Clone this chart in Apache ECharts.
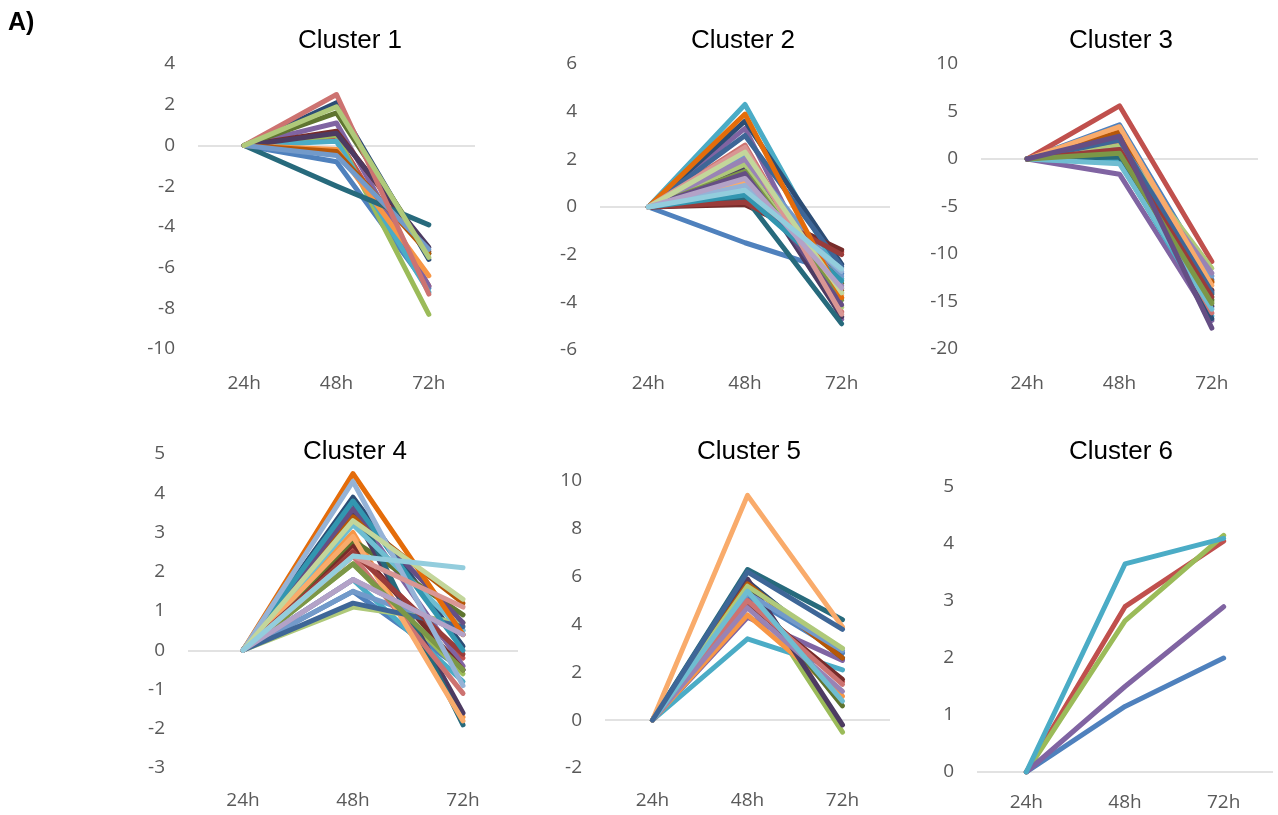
<!DOCTYPE html>
<html>
<head>
<meta charset="utf-8">
<script src="https://cdn.jsdelivr.net/npm/echarts@6/dist/echarts.min.js"></script>
<style>
  html, body { margin: 0; padding: 0; background: #fff; }
  #main { width: 1278px; height: 815px; }
</style>
</head>
<body>
<div id="main"></div>
<script>
// time points
var timeLabels = ['24h', '48h', '72h'];

// Excel 2010 style series colours, used in order within each cluster
var palette = [
  '#4F81BD', '#C0504D', '#9BBB59', '#8064A2', '#4BACC6', '#F79646',
  '#2C4D75', '#772C2A', '#5F7530', '#4D3B62', '#276A7C', '#B65708',
  '#729ACA', '#CD7371', '#AFC97A', '#9983B5', '#6FBDD1', '#F9AB6B',
  '#3E6697', '#9A3C3A', '#7C9747', '#654E84', '#3296B0', '#E46C0A',
  '#95B3D7', '#D99694', '#C3D69B', '#B3A2C7', '#93CDDD', '#FAC090'
];

// each row: value at 24h, 48h, 72h
var cluster1 = [
  [0, -0.8, -7.0], [0, 0.4, -6.9], [0, 0.5, -8.3], [0, 1.1, -6.9], [0, 0.2, -7.2],
  [0, -0.2, -6.4], [0, 2.1, -5.6], [0, 0.7, -5.2], [0, 1.6, -5.3], [0, 0.6, -5.0],
  [0, -2.0, -3.9], [0, -0.3, -5.3], [0, -0.5, -5.1], [0, 2.5, -7.3], [0, 1.9, -5.5]
];
var cluster2 = [
  [0, -1.5, -2.8], [0, 0.3, -1.9], [0, 1.9, -3.4], [0, 3.3, -4.7], [0, 4.3, -3.0],
  [0, 1.4, -3.8], [0, 3.6, -2.4], [0, 0.1, -1.8], [0, 1.7, -3.2], [0, 1.6, -4.6],
  [0, 0.4, -4.9], [0, 1.3, -3.5], [0, 2.1, -2.9], [0, 2.6, -4.4], [0, 1.8, -4.2],
  [0, 2.0, -3.3], [0, 1.0, -3.6], [0, 1.1, -3.7], [0, 3.0, -2.5], [0, 0.2, -2.0],
  [0, 1.5, -3.9], [0, 1.4, -4.1], [0, 0.5, -3.1], [0, 3.9, -3.8], [0, 0.9, -2.7],
  [0, 2.5, -4.5], [0, 2.3, -3.6], [0, 1.2, -3.4], [0, 0.7, -2.6]
];
var cluster3 = [
  [0, 3.6, -12.7], [0, 5.6, -10.8], [0, 1.5, -15.0], [0, -1.6, -17.0], [0, -0.3, -16.5],
  [0, 3.2, -13.0], [0, 2.2, -16.8], [0, 0.5, -13.8], [0, 0.3, -14.8], [0, 2.0, -15.5],
  [0, 0.2, -14.2], [0, 2.8, -12.9], [0, 1.8, -12.3], [0, 1.6, -16.2], [0, 1.4, -11.5],
  [0, 1.0, -12.0], [0, -0.5, -15.8], [0, 3.4, -13.3], [0, 2.0, -14.0], [0, 1.0, -14.5],
  [0, 0.6, -15.2], [0, 2.4, -17.8]
];
var cluster4 = [
  [0, 1.5, -0.5], [0, 2.6, -0.2], [0, 2.2, -0.6], [0, 3.6, -0.4], [0, 1.8, -0.8],
  [0, 3.0, -1.7], [0, 3.9, 0.1], [0, 2.7, -0.5], [0, 2.8, 0.9], [0, 3.5, -1.6],
  [0, 3.8, -1.9], [0, 3.4, 1.2], [0, 1.5, 0.5], [0, 2.4, -1.1], [0, 1.1, 0.7],
  [0, 1.8, 0.4], [0, 3.2, 0.5], [0, 2.9, -1.8], [0, 1.2, 0.6], [0, 2.5, -0.1],
  [0, 2.2, -0.5], [0, 3.6, 0.7], [0, 3.8, 0.0], [0, 4.5, 0.4], [0, 4.3, -0.9],
  [0, 2.4, 1.1], [0, 3.3, 1.3], [0, 1.8, 0.4], [0, 2.4, 2.1]
];
var cluster5 = [
  [0, 5.2, 2.8], [0, 5.0, 1.6], [0, 5.6, -0.5], [0, 4.3, 2.5], [0, 3.4, 2.1],
  [0, 4.4, 1.0], [0, 5.8, 2.6], [0, 4.9, 1.7], [0, 5.5, 0.6], [0, 5.9, -0.2],
  [0, 6.3, 4.2], [0, 5.7, 2.6], [0, 5.3, 2.9], [0, 5.0, 1.5], [0, 5.6, 3.0],
  [0, 4.7, 1.2], [0, 5.4, 0.8], [0, 9.4, 3.9], [0, 6.2, 3.8]
];
var cluster6 = [
  [0, 1.15, 2.0], [0, 2.9, 4.05], [0, 2.65, 4.15], [0, 1.5, 2.9], [0, 3.65, 4.1]
];

var clusters = [cluster1, cluster2, cluster3, cluster4, cluster5, cluster6];
var titles = ['Cluster 1', 'Cluster 2', 'Cluster 3', 'Cluster 4', 'Cluster 5', 'Cluster 6'];
var yMin = [-10, -6, -20, -3, -2, 0];
var yMax = [4, 6, 10, 5, 10, 5];
var yStep = [2, 2, 5, 1, 2, 1];

// panel layout (pixels)
var panels = [
  { left: 198, top: 64, width: 277, height: 285, labelGap: 25, titleX: 350, titleY: 41 },
  { left: 600, top: 64, width: 290, height: 286, labelGap: 24, titleX: 743, titleY: 41 },
  { left: 981, top: 64, width: 277, height: 285, labelGap: 25, titleX: 1121, titleY: 41 },
  { left: 188, top: 454, width: 330, height: 314, labelGap: 23, titleX: 355, titleY: 452 },
  { left: 605, top: 481, width: 285, height: 287, labelGap: 23, titleX: 749, titleY: 452 },
  { left: 977, top: 487, width: 296, height: 285, labelGap: 21, titleX: 1121, titleY: 452 }
];

var labelFont = { fontFamily: 'Open Sans', fontSize: 19, color: '#595959' };

var grids = [], xAxes = [], yAxes = [], series = [], graphics = [];

panels.forEach(function (p, k) {
  grids.push({ left: p.left, top: p.top, width: p.width, height: p.height });

  xAxes.push({
    type: 'category', gridIndex: k, data: timeLabels, boundaryGap: true,
    axisLine: { show: false }, axisTick: { show: false }, splitLine: { show: false },
    axisLabel: Object.assign({ margin: p.labelGap }, labelFont)
  });

  // only the split line at zero is visible
  var lineColors = [];
  for (var v = yMin[k]; v <= yMax[k]; v += yStep[k]) {
    lineColors.push(v === 0 ? '#D9D9D9' : 'rgba(0,0,0,0)');
  }

  yAxes.push({
    type: 'value', gridIndex: k, min: yMin[k], max: yMax[k], interval: yStep[k],
    axisLine: { show: false }, axisTick: { show: false },
    splitLine: { show: true, lineStyle: { color: lineColors, width: 1.5 } },
    axisLabel: Object.assign({ margin: 23 }, labelFont)
  });

  clusters[k].forEach(function (row, i) {
    series.push({
      type: 'line', xAxisIndex: k, yAxisIndex: k, data: row,
      symbol: 'none', silent: true, animation: false,
      lineStyle: { width: 5, color: palette[i % palette.length], cap: 'round', join: 'round' }
    });
  });

  graphics.push({
    type: 'text', x: p.titleX, y: p.titleY,
    style: {
      text: titles[k], fill: '#000', font: '26px "Liberation Sans", Arial, sans-serif',
      textAlign: 'center', textVerticalAlign: 'middle'
    }
  });
});

graphics.push({
  type: 'text', x: 8, y: 23,
  style: {
    text: 'A)', fill: '#000', font: 'bold 25px "Liberation Sans", Arial, sans-serif',
    textAlign: 'left', textVerticalAlign: 'middle'
  }
});

var myChart = echarts.init(document.getElementById('main'));
myChart.setOption({
  animation: false,
  backgroundColor: '#ffffff',
  grid: grids,
  xAxis: xAxes,
  yAxis: yAxes,
  series: series,
  graphic: graphics
});
</script>
</body>
</html>
